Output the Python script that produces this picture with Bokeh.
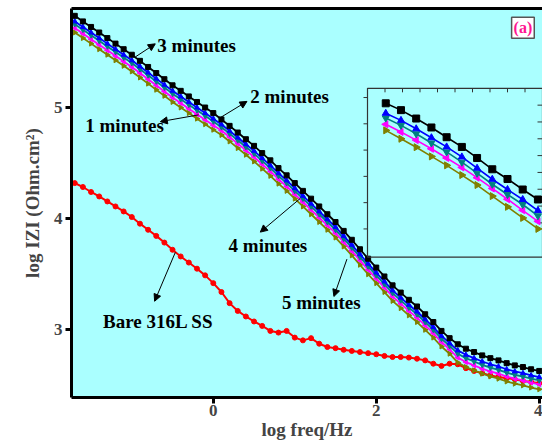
import math
from bokeh.plotting import figure
from bokeh.models import (FixedTicker, LinearAxis, Range1d, Label, Arrow, NormalHead)
from bokeh.embed import file_html
from bokeh.resources import INLINE

# ---------------- data ----------------
log_f = [round(-1.7 + 0.1 * i, 2) for i in range(58)]

z_3min = [5.825, 5.775, 5.725, 5.675, 5.625, 5.575, 5.525, 5.475, 5.420, 5.365,
          5.310, 5.255, 5.200, 5.150, 5.100, 5.050, 5.000, 4.950, 4.893, 4.835,
          4.775, 4.715, 4.655, 4.590, 4.525, 4.455, 4.390, 4.320, 4.250, 4.180,
          4.110, 4.040, 3.970, 3.890, 3.810, 3.725, 3.640, 3.560, 3.480, 3.400,
          3.335, 3.270, 3.210, 3.140, 3.070, 2.990, 2.925, 2.870, 2.830, 2.800,
          2.770, 2.745, 2.725, 2.700, 2.680, 2.665, 2.645, 2.630]
z_2min = [5.775, 5.725, 5.675, 5.625, 5.575, 5.525, 5.475, 5.425, 5.370, 5.315,
          5.260, 5.205, 5.150, 5.100, 5.050, 5.000, 4.950, 4.900, 4.848, 4.790,
          4.730, 4.670, 4.610, 4.545, 4.480, 4.410, 4.345, 4.275, 4.205, 4.135,
          4.065, 3.995, 3.925, 3.845, 3.765, 3.680, 3.595, 3.515, 3.435, 3.355,
          3.290, 3.225, 3.165, 3.095, 3.025, 2.945, 2.880, 2.815, 2.775, 2.745,
          2.715, 2.690, 2.670, 2.645, 2.625, 2.610, 2.590, 2.575]
z_1min = [5.750, 5.700, 5.650, 5.600, 5.550, 5.500, 5.450, 5.400, 5.345, 5.290,
          5.235, 5.180, 5.125, 5.075, 5.025, 4.975, 4.925, 4.875, 4.823, 4.765,
          4.705, 4.645, 4.585, 4.520, 4.455, 4.385, 4.320, 4.250, 4.180, 4.110,
          4.040, 3.970, 3.900, 3.820, 3.740, 3.655, 3.570, 3.490, 3.410, 3.330,
          3.265, 3.200, 3.140, 3.070, 3.000, 2.920, 2.855, 2.785, 2.745, 2.715,
          2.685, 2.660, 2.640, 2.615, 2.595, 2.580, 2.560, 2.545]
z_4min = [5.715, 5.665, 5.615, 5.565, 5.515, 5.465, 5.415, 5.365, 5.310, 5.255,
          5.200, 5.145, 5.090, 5.040, 4.990, 4.940, 4.890, 4.840, 4.793, 4.735,
          4.675, 4.615, 4.555, 4.490, 4.425, 4.355, 4.290, 4.220, 4.150, 4.080,
          4.010, 3.940, 3.870, 3.790, 3.710, 3.625, 3.540, 3.460, 3.380, 3.300,
          3.235, 3.170, 3.110, 3.040, 2.970, 2.890, 2.825, 2.750, 2.710, 2.680,
          2.650, 2.625, 2.605, 2.580, 2.560, 2.545, 2.525, 2.510]
z_5min = [5.675, 5.625, 5.575, 5.525, 5.475, 5.425, 5.375, 5.325, 5.270, 5.215,
          5.160, 5.105, 5.050, 5.000, 4.950, 4.900, 4.850, 4.800, 4.753, 4.695,
          4.635, 4.575, 4.515, 4.450, 4.385, 4.315, 4.250, 4.180, 4.110, 4.040,
          3.970, 3.900, 3.830, 3.750, 3.670, 3.585, 3.500, 3.420, 3.340, 3.260,
          3.195, 3.130, 3.070, 3.000, 2.930, 2.850, 2.785, 2.705, 2.665, 2.635,
          2.605, 2.580, 2.560, 2.535, 2.515, 2.500, 2.480, 2.465]
z_bare = [4.320, 4.285, 4.240, 4.200, 4.155, 4.110, 4.065, 4.015, 3.955, 3.900,
          3.845, 3.785, 3.720, 3.660, 3.605, 3.550, 3.490, 3.420, 3.340, 3.240,
          3.170, 3.120, 3.075, 3.035, 2.990, 2.975, 2.990, 2.930, 2.905, 2.925,
          2.875, 2.845, 2.835, 2.820, 2.810, 2.800, 2.790, 2.780, 2.765, 2.755,
          2.755, 2.750, 2.740, 2.725, 2.695, 2.675, 2.695, 2.690, 2.655, 2.630,
          2.610, 2.590, 2.575, 2.565, 2.555, 2.540, 2.530, 2.520]

# inset (magnified view)
inset_x = [0.12, 0.22, 0.32, 0.42, 0.52, 0.62, 0.72, 0.82, 0.92, 1.02, 1.12]
inset_3min = [4.978, 4.952, 4.920, 4.886, 4.849, 4.812, 4.770, 4.727, 4.690, 4.650, 4.612]
inset_2min = [4.940, 4.913, 4.881, 4.847, 4.812, 4.774, 4.731, 4.689, 4.650, 4.612, 4.570]
inset_1min = [4.922, 4.894, 4.862, 4.827, 4.793, 4.754, 4.712, 4.670, 4.631, 4.593, 4.550]
inset_4min = [4.898, 4.869, 4.838, 4.805, 4.770, 4.734, 4.695, 4.654, 4.613, 4.571, 4.529]
inset_5min = [4.875, 4.843, 4.811, 4.776, 4.742, 4.705, 4.667, 4.625, 4.584, 4.542, 4.500]
inset_x_range = (0.0, 1.15)
inset_y_range = (4.393, 5.035)
inset_top_ticks = [0.115, 0.23, 0.345, 0.46, 0.575, 0.69, 0.805, 0.92, 1.035]
inset_left_ticks = [5.0, 4.9, 4.8, 4.7, 4.6, 4.5]
inset_right_ticks = [4.971, 4.907, 4.843, 4.779, 4.715, 4.651, 4.587, 4.523]

x_ticks = [0, 2, 4]
y_ticks = [3, 4, 5]

# annotations: (text, text_x, text_y, arrow_tail_x, arrow_tail_y, arrow_head_x, arrow_head_y)
notes = [
    ("3 minutes", -0.687, 5.559, -0.957, 5.455, -0.712, 5.573),
    ("2 minutes", 0.454, 5.100, 0.086, 4.909, 0.413, 5.055),
    ("1 minutes", -1.571, 4.839, -0.180, 4.934, -0.650, 4.873),
    ("4 minutes", 0.188, 3.757, 1.067, 4.182, 0.577, 3.879),
    ("5 minutes", 0.843, 3.248, 1.640, 3.636, 1.480, 3.300),
    ("Bare 316L SS", -1.353, 3.075, -0.466, 3.697, -0.720, 3.257),
]

# ---------------- figure ----------------
X0, X1 = -1.74, 4.04
Y0, Y1 = 2.391, 5.891
SERIF = "Liberation Serif"

p = figure(width=542, height=442, output_backend="svg", toolbar_location=None,
           x_range=Range1d(X0, X1), y_range=Range1d(Y0, Y1),
           min_border_left=71, min_border_right=0, min_border_top=8,
           min_border_bottom=45)
p.background_fill_color = "#aaffff"
p.border_fill_color = "white"
p.outline_line_color = None
p.xgrid.visible = False
p.ygrid.visible = False

for ax in (p.xaxis[0], p.yaxis[0]):
    ax.axis_line_width = 3
    ax.axis_line_color = "black"
    ax.major_tick_line_width = 3
    ax.major_tick_out = 6
    ax.major_tick_in = 0
    ax.minor_tick_line_color = None
    ax.major_label_text_font = SERIF
    ax.major_label_text_font_style = "bold"
    ax.major_label_text_font_size = "17px"
    ax.axis_label_text_font = SERIF
    ax.axis_label_text_font_style = "bold"
    ax.axis_label_text_font_size = "19px"
    ax.major_label_standoff = 3
p.xaxis.ticker = FixedTicker(ticks=x_ticks)
p.yaxis.ticker = FixedTicker(ticks=y_ticks)
p.xaxis.axis_label = "log freq/Hz"
p.yaxis.axis_label = "log IZI (Ohm.cm²)"
p.xaxis.major_label_standoff = 1
p.xaxis.axis_label_standoff = 0
p.yaxis.axis_label_standoff = 8

top = LinearAxis(ticker=FixedTicker(ticks=[]), axis_line_width=3,
                 major_label_text_font_size="0px", minor_tick_line_color=None,
                 major_tick_line_color=None)
p.add_layout(top, "above")

# main curves
p.line(log_f, z_bare, color="#ff0000", line_width=2)
p.scatter(log_f, z_bare, marker="circle", size=5, color="#ff0000")

series = [
    (z_5min, "#808000", "triangle", -math.pi / 2),
    (z_4min, "#ff00ff", "triangle", math.pi / 2),
    (z_1min, "#008080", "inverted_triangle", 0),
    (z_2min, "#0000ff", "triangle", 0),
    (z_3min, "#000000", "square", 0),
]
for ys, col, mk, ang in series:
    p.line(log_f, ys, color=col, line_width=1.8)
    p.scatter(log_f, ys, marker=mk, angle=ang, size=5, color=col)

# ---------------- inset via extra ranges ----------------
box_l = (367 - 71) / 471 * (X1 - X0) + X0  # inset frame edges in main data units
box_r = X1
box_t = Y1 - (91 - 12) / 385 * (Y1 - Y0)
box_b = Y1 - (258 - 12) / 385 * (Y1 - Y0)
ix0, ix1 = inset_x_range
iy0, iy1 = inset_y_range
sx = (ix1 - ix0) / (box_r - box_l)
sy = (iy1 - iy0) / (box_t - box_b)
p.extra_x_ranges = {"ix": Range1d(ix0 + (X0 - box_l) * sx, ix0 + (X1 - box_l) * sx)}
p.extra_y_ranges = {"iy": Range1d(iy0 + (Y0 - box_b) * sy, iy0 + (Y1 - box_b) * sy)}
kw = dict(x_range_name="ix", y_range_name="iy")

p.quad(left=[ix0], right=[ix1], bottom=[iy0], top=[iy1], fill_alpha=0,
       line_color="#333333", line_width=1.2, **kw)
p.ray(x=[ix0] * len(inset_left_ticks), y=inset_left_ticks, length=4,
      length_units="screen", angle=math.pi, line_color="#333333", line_width=1, **kw)
p.ray(x=[ix1] * len(inset_right_ticks), y=inset_right_ticks, length=5,
      length_units="screen", angle=math.pi, line_color="#333333", line_width=1, **kw)
p.ray(x=inset_top_ticks, y=[iy1] * len(inset_top_ticks), length=4,
      length_units="screen", angle=-math.pi / 2, line_color="#333333", line_width=1, **kw)

inset_series = [
    (inset_5min, "#808000", "triangle", -math.pi / 2),
    (inset_4min, "#ff00ff", "triangle", math.pi / 2),
    (inset_1min, "#008080", "inverted_triangle", 0),
    (inset_2min, "#0000ff", "triangle", 0),
    (inset_3min, "#000000", "square", 0),
]
for ys, col, mk, ang in inset_series:
    p.line(inset_x, ys, color=col, line_width=1.6, **kw)
    p.scatter(inset_x, ys, marker=mk, angle=ang, size=7, color=col, **kw)

# ---------------- annotations ----------------
for txt, tx, ty, ax_, ay_, hx, hy in notes:
    p.add_layout(Arrow(end=NormalHead(size=7, fill_color="black", line_color="black"),
                       x_start=ax_, y_start=ay_, x_end=hx, y_end=hy,
                       line_color="black", line_width=1))
    p.add_layout(Label(x=tx, y=ty, text=txt, text_font=SERIF, text_font_style="bold",
                       text_font_size="19px", text_baseline="middle", text_color="black"))

p.add_layout(Label(x=3.80, y=5.718, text="(a)", text_font=SERIF, text_font_style="bold",
                   text_font_size="16px", text_align="center", text_baseline="middle",
                   text_color="#ff1493", background_fill_color="white",
                   border_line_color="#555555", border_line_width=1.5, padding=2))

open("out.html", "w").write(file_html(p, INLINE))
